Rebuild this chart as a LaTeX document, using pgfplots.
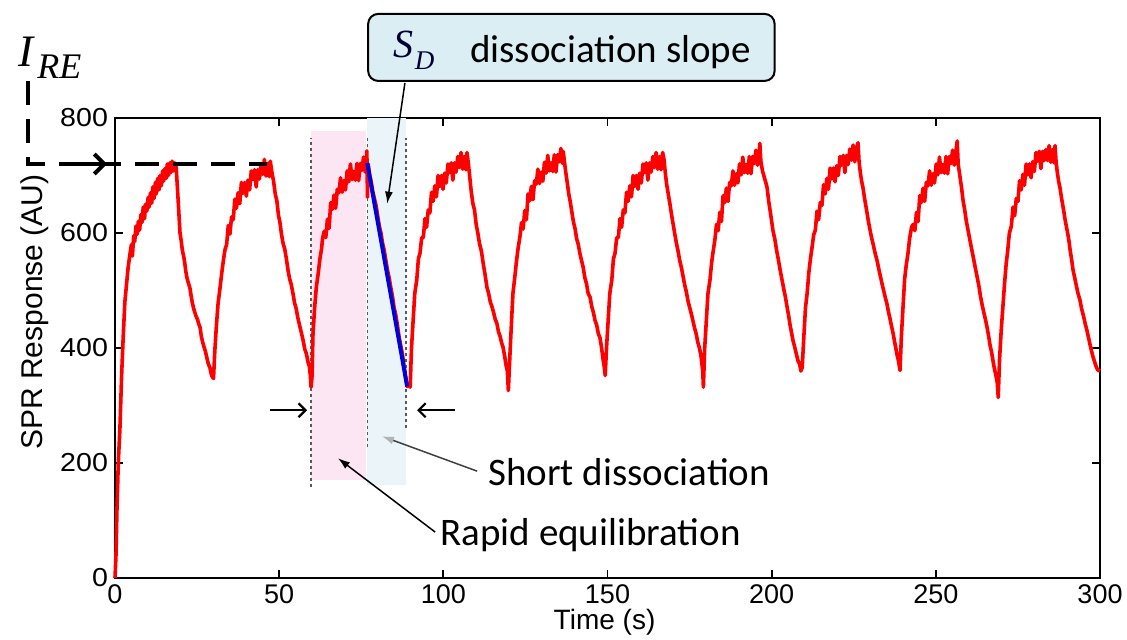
\documentclass[border=0pt]{standalone}
\usepackage{fontspec}
\setmainfont{Liberation Sans}
\newfontfamily\calfont{Carlito}
\newfontfamily\tnrfont{Liberation Serif}
\usepackage{graphicx}
\usepackage{pgfplots}
\pgfplotsset{compat=1.18}
\usetikzlibrary{arrows.meta}
\definecolor{pinkbg}{HTML}{FCE6F3}
\definecolor{bluebg}{HTML}{EBF5F9}
\definecolor{boxbg}{HTML}{DAEEF3}
\pgfplotstableread{
t v
0 0
0.3 40
0.6 120
1.0 200
1.5 260
2.0 350
2.5 420
3.0 480
3.5 510
4.0 540
4.6 565
5.0 580
5.3 560
5.7 595
6.0 585
6.4 612
6.8 598
7.1 620
7.5 605
7.9 632
8.2 618
8.6 645
9.0 625
9.3 650
9.7 638
10.1 662
10.4 645
10.8 670
11.2 652
11.5 680
11.9 660
12.3 688
12.6 668
13.0 695
13.4 675
13.7 700
14.1 682
14.5 708
14.8 690
15.2 712
15.6 695
15.9 720
16.3 700
16.7 722
17.0 705
17.4 725
17.8 708
18.2 722
18.6 718
19.2 660
19.8 600
20.2 585
20.5 570
20.9 560
21.2 550
21.6 532
22.0 520
22.4 512
22.8 505
23.2 490
23.5 480
23.9 470
24.3 462
24.7 455
25.1 450
25.5 442
25.9 436
26.3 420
26.7 410
27.1 402
27.5 395
27.9 385
28.3 375
28.6 370
28.9 366
29.3 355
29.6 350
30.0 347
30.4 395
30.9 440
31.4 478
32.0 505
32.5 530
33.0 552
33.5 571
34.0 580
34.5 613
35.0 598
35.5 628
36.0 623
36.5 659
37.0 643
37.5 670
38.0 651
38.5 688
39.0 669
39.5 688
40.0 664
40.5 692
41.0 675
41.5 708
42.0 693
42.5 710
43.0 680
43.5 710
44.0 694
44.5 721
45.0 702
45.5 728
46.0 699
46.5 721
47.0 698
47.3 725
47.8 705
48.3 690
48.8 668
49.3 656
49.8 630
50.2 620
50.7 598
51.2 582
51.7 572
52.2 555
52.7 535
53.2 520
53.7 510
54.2 495
54.7 478
55.2 468
55.7 452
56.2 440
56.7 428
57.3 413
57.8 398
58.3 390
58.8 375
59.2 368
59.5 352
59.7 332
60.0 350
60.3 425
60.8 470
61.3 505
61.9 530
62.4 555
62.9 572
63.2 590
63.7 603
64.2 592
64.7 624
65.2 608
65.7 653
66.2 641
66.7 666
67.2 643
67.7 676
68.2 670
68.7 696
69.2 671
69.7 691
70.2 675
70.7 708
71.2 689
71.7 720
72.2 693
72.7 707
73.2 692
73.7 721
74.2 691
74.7 721
75.2 709
75.7 732
76.2 706
76.5 720
76.7 743
76.9 662
77.1 720
77.6 700
78.0 690
78.5 672
79.0 660
79.5 648
80.0 630
80.5 612
81.0 600
81.5 582
82.0 570
82.5 552
83.0 535
83.5 522
84.0 505
84.5 490
85.0 470
85.5 458
86.0 440
86.5 420
87.0 405
87.5 390
88.0 370
88.6 345
89.0 333
89.5 335
89.9 332
90.3 400
90.8 448
91.3 495
91.9 518
92.4 555
92.9 565
93.4 592
93.9 592
94.4 625
94.9 610
95.4 640
95.9 635
96.4 671
96.9 655
97.4 682
97.9 663
98.4 700
98.9 681
99.4 700
99.9 676
100.4 704
100.9 687
101.4 720
101.9 705
102.4 722
102.9 692
103.4 722
103.9 706
104.4 733
104.9 714
105.4 740
105.9 711
106.4 733
106.9 710
107.2 740
107.6 722
108.0 700
108.5 672
109.0 651
109.5 640
110.0 615
110.5 600
111.0 582
111.6 568
112.2 545
112.7 528
113.3 505
113.8 495
114.3 480
114.8 472
115.3 462
115.8 450
116.3 443
116.8 428
117.3 420
117.8 408
118.2 401
118.7 385
119.1 370
119.5 360
119.8 326
120.3 390
120.8 450
121.2 495
121.8 525
122.3 552
122.8 575
123.3 592
123.8 618
124.3 607
124.8 639
125.3 623
125.8 668
126.3 656
126.8 681
127.3 658
127.8 691
128.3 685
128.8 711
129.3 686
129.8 706
130.3 690
130.8 723
131.3 704
131.8 735
132.3 708
132.8 722
133.3 707
133.8 736
134.3 706
134.8 736
135.3 724
135.8 747
136.3 721
136.5 742
136.8 728
137.3 705
137.8 685
138.2 668
138.6 656
139.1 638
139.6 620
140.1 608
140.6 590
141.1 580
141.6 564
142.1 552
142.6 540
143.1 522
143.6 512
144.1 495
144.7 488
145.2 472
145.7 462
146.2 448
146.7 440
147.2 425
147.7 418
148.2 400
148.7 378
149.0 368
149.3 352
149.7 400
150.2 448
150.7 495
151.3 518
151.8 555
152.3 565
152.8 592
153.3 592
153.8 625
154.3 610
154.8 640
155.3 635
155.8 671
156.3 655
156.8 682
157.3 663
157.8 700
158.3 681
158.8 700
159.3 676
159.8 704
160.3 687
160.8 720
161.3 705
161.8 722
162.3 692
162.8 722
163.3 706
163.8 733
164.3 714
164.8 740
165.3 711
165.8 733
166.3 710
166.8 740
167.2 728
167.6 705
168.0 685
168.5 668
169.0 651
169.5 632
170.0 615
170.5 598
171.0 582
171.5 568
172.0 552
172.5 540
173.0 525
173.5 510
174.0 498
174.5 482
175.0 471
175.5 460
176.0 448
176.5 435
177.0 425
177.5 410
178.0 400
178.5 385
179.0 360
179.2 332
179.6 400
180.1 448
180.6 495
181.2 518
181.7 548
182.2 569
182.7 588
183.2 615
183.7 604
184.2 636
184.7 620
185.2 665
185.7 653
186.2 678
186.7 655
187.2 688
187.7 682
188.2 708
188.7 683
189.2 703
189.7 687
190.2 720
190.7 701
191.2 732
191.7 705
192.2 719
192.7 704
193.2 733
193.7 703
194.2 733
194.7 721
195.2 744
195.7 718
196.2 741
196.4 756
196.7 725
197.2 708
197.7 698
198.2 688
198.6 679
199.1 655
199.5 640
200.0 620
200.4 604
201.0 588
201.5 570
202.0 555
202.6 535
203.1 520
203.6 505
204.2 488
204.7 471
205.2 455
205.6 440
206.1 425
206.5 413
207.0 402
207.5 390
208.0 378
208.5 372
208.9 360
209.3 366
209.8 420
210.3 470
210.8 495
211.3 530
211.8 555
212.3 575
212.8 597
213.3 605
213.8 638
214.3 623
214.8 653
215.3 648
215.8 684
216.3 668
216.8 695
217.3 676
217.8 713
218.3 694
218.8 713
219.3 689
219.8 717
220.3 700
220.8 733
221.3 718
221.8 735
222.3 705
222.8 735
223.3 719
223.8 746
224.3 727
224.8 753
225.3 724
225.8 746
226.3 757
226.6 725
227.0 705
227.4 690
227.8 679
228.3 660
228.9 640
229.4 622
230.0 604
230.5 590
231.0 578
231.5 565
232.1 552
232.6 538
233.1 525
233.6 512
234.1 500
234.6 488
235.1 477
235.6 462
236.0 452
236.5 438
237.0 425
237.4 412
237.8 400
238.2 388
238.6 378
239.1 361
239.5 420
240.0 471
240.5 520
241.0 545
241.5 564
242.0 590
242.6 610
243.1 615
243.6 604
244.1 636
244.6 620
245.1 665
245.6 653
246.1 678
246.6 655
247.1 688
247.6 682
248.1 708
248.6 683
249.1 703
249.6 687
250.1 720
250.6 701
251.1 732
251.6 705
252.1 719
252.6 704
253.1 733
253.6 703
254.1 733
254.6 721
255.1 744
255.6 718
256.1 741
256.5 760
256.8 720
257.3 700
257.8 680
258.3 656
258.8 640
259.3 620
259.8 605
260.4 587
260.9 572
261.5 555
262.0 540
262.6 523
263.1 508
263.6 490
264.1 475
264.6 462
265.1 450
265.6 436
266.1 420
266.5 405
267.0 392
267.4 378
267.8 365
268.2 355
268.7 340
269.0 314
269.4 380
269.9 430
270.4 470
270.9 510
271.4 545
271.9 570
272.4 600
273.0 612
273.5 645
274.0 630
274.5 660
275.0 655
275.5 691
276.0 675
276.5 702
277.0 683
277.5 720
278.0 701
278.5 720
279.0 696
279.5 724
280.0 707
280.5 740
281.0 725
281.5 742
282.0 712
282.5 742
283.0 726
283.5 745
284.0 726
284.5 752
285.0 723
285.5 745
286.0 722
286.3 752
286.6 725
287.0 705
287.4 690
287.8 679
288.3 660
288.9 640
289.4 622
290.0 604
290.5 588
290.9 570
291.4 552
291.8 535
292.3 522
292.8 508
293.3 495
293.9 483
294.4 468
295.0 455
295.5 442
296.0 431
296.5 418
297.0 405
297.4 395
297.9 384
298.4 375
298.8 368
299.3 362
300.0 360
}\spr
\begin{document}
\begin{tikzpicture}
\path[use as bounding box] (0,0) rectangle (563.5pt,320pt);
\begin{axis}[
  at={(57.5pt,31pt)}, anchor=south west,
  scale only axis, width=492.5pt, height=230pt,
  xmin=0, xmax=300, ymin=0, ymax=800,
  xtick={0,50,...,300}, ytick={0,200,...,800},
  tick align=inside, major tick length=4pt,
  axis line style={line width=1pt},
  every tick/.style={black, line width=0.9pt},
  clip=false,
  /pgf/number format/assume math mode=true,
  xticklabel style={font=\fontsize{13.5}{15}\selectfont},
  yticklabel style={font=\fontsize{13}{15}\selectfont},
  yticklabel={\scalebox{1.1}[1]{\pgfmathprintnumber{\tick}}},
  xlabel={Time (s)},
  ylabel={SPR Response (AU)},
  xlabel style={font=\fontsize{14}{16}\selectfont, at={(axis description cs:0.497,0)}, anchor=base, yshift=-26pt},
  ylabel style={font=\fontsize{15}{17}\selectfont, at={(axis description cs:-0.081,0.578)}, anchor=center},
]
\fill[pinkbg] (59.7,170) rectangle (76.5,778);
\fill[bluebg] (76.8,161) rectangle (88.6,800);
\draw[black!65, line width=0.6pt, dash pattern=on 1.5pt off 1.5pt] (59.7,158) -- (59.7,766);
\draw[black!65, line width=0.6pt, dash pattern=on 1.5pt off 1.5pt] (76.8,227) -- (76.8,766);
\draw[black!65, line width=0.6pt, dash pattern=on 1.5pt off 1.5pt] (88.6,260) -- (88.6,766);

\addplot[red, line width=1.8pt, line join=round] table[x=t, y=v] {\spr};
\addplot[blue!85!black, line width=2pt] coordinates {(76.8,722) (89.0,333)};

% I_RE indicator
\draw[line width=2pt, dash pattern=on 12pt off 7pt] (-26.5,865) -- (-26.5,720) -- (46.3,720);
\draw[line width=2pt, -{Straight Barb[length=5pt,width=10pt,line width=2pt]}] (-13.7,720) -- (-2.4,720);
\node[anchor=base west, inner sep=0pt, font=\tnrfont\itshape\fontsize{22.5}{24}\selectfont] at (-29.5,890) {I};
\node[anchor=base west, inner sep=0pt, font=\tnrfont\itshape\fontsize{18}{19}\selectfont] at (-23.8,868) {RE};

% callout
\draw[fill=boxbg, line width=1pt, rounded corners=5pt] (77.1,981) rectangle (200.9,864.5);
\node[anchor=base west, inner sep=0pt, font=\tnrfont\itshape\fontsize{20}{22}\selectfont, text=black!80!blue] at (84.7,904.5) {S};
\node[anchor=base west, inner sep=0pt, font=\tnrfont\itshape\fontsize{13.5}{15}\selectfont, text=black!80!blue] at (91.2,885) {D};
\node[anchor=base west, inner sep=0pt, font=\calfont\fontsize{19.5}{21}\selectfont] at (108.1,895.8) {dissociation slope};
\draw[line width=0.75pt, -{Latex[length=6pt,width=4pt]}] (88.3,861) -- (82.9,651);

% side arrows
\draw[line width=1.1pt, -{Straight Barb[length=3.5pt,width=7pt,line width=1.1pt]}] (47.2,291.7) -- (58.5,291.7);
\draw[line width=1.1pt, -{Straight Barb[length=3.5pt,width=7pt,line width=1.1pt]}] (103.6,291.7) -- (92.0,291.7);

% texts
\node[anchor=base west, inner sep=0pt, font=\calfont\fontsize{19.5}{21}\selectfont] at (113.6,160) {Short dissociation};
\draw[black!75, line width=0.75pt, -{Latex[length=6pt,width=4pt,fill=gray!60,color=gray!60]}] (110.3,185.8) -- (81.3,246.5);
\node[anchor=base west, inner sep=0pt, font=\calfont\fontsize{19.5}{21}\selectfont] at (99.0,57.3) {Rapid equilibration};
\draw[black, line width=0.75pt, -{Latex[length=6pt,width=4pt]}] (97.5,79.9) -- (67.9,208.3);
\end{axis}
\end{tikzpicture}
\end{document}
